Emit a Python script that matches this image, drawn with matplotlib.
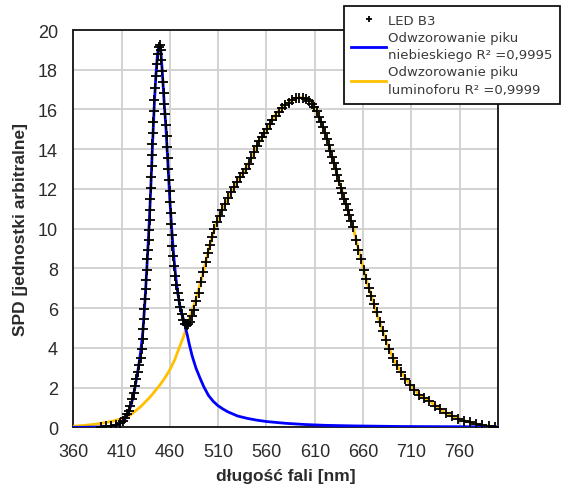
import matplotlib
matplotlib.use("Agg")
import matplotlib.pyplot as plt

# ---------------- data ----------------
led_nm = [389, 394, 399, 404, 408, 411, 414, 416, 417.6, 419.2, 420.8, 422.4, 423.9, 425.4,
          426.8, 428.2, 429.6, 430.8, 431.7, 432.3, 432.9, 433.5, 434.1, 434.8, 435.4, 436.1,
          436.8, 437.4, 437.9, 438.4, 438.9, 439.4, 439.9, 440.3, 440.7, 441.1, 441.5, 441.9,
          442.3, 442.7, 443.2, 443.8, 444.5, 445.3, 446.2, 447.2, 448.3, 449.4, 450.5, 451.3,
          452.0, 452.8, 453.6, 454.4, 455.2, 455.9, 456.6, 457.2, 457.8, 458.4, 459.0, 459.6,
          460.2, 460.8, 461.4, 461.9, 462.5, 463.4, 464.5, 465.6, 466.8, 468.0, 469.3, 470.6,
          472.1, 473.8, 475.6, 477.3, 479.0, 480.7, 482.8, 485.0, 487.5, 490.0, 492.3, 494.6,
          496.9, 499.2, 501.3, 503.5, 506.0, 508.7, 511.5, 514.4, 517.4, 520.4, 523.4, 526.4,
          529.4, 532.4, 535.4, 538.4, 541.4, 544.2, 547.0, 549.7, 552.3, 555.0, 557.6, 560.3,
          563.2, 566.2, 569.4, 572.6, 576.0, 579.5, 583.0, 586.6, 590.2, 593.8, 597.4, 600.8,
          604.0, 607.0, 609.6, 612.0, 614.3, 616.5, 618.6, 620.6, 622.5, 624.3, 626.1, 627.9,
          629.7, 631.5, 633.3, 635.1, 636.9, 638.7, 640.5, 642.3, 644.1, 645.9, 647.7, 649.7,
          652.5, 655.2, 658.0, 660.7, 663.3, 665.8, 668.5, 671.3, 674.2, 677.2, 680.3, 683.6,
          687.2, 691.0, 695.0, 699.2, 703.6, 708.2, 713.0, 718.0, 723.2, 728.6, 734.2, 740.0,
          746.0, 752.0, 758.2, 764.5, 770.8, 777.2, 783.6, 790.0, 796.3]
led_val = [0.03, 0.05, 0.08, 0.13, 0.2, 0.3, 0.48, 0.65, 0.8, 1.05, 1.4, 1.75, 2.1, 2.45,
           2.8, 3.15, 3.5, 3.95, 4.45, 4.95, 5.45, 5.95, 6.45, 6.95, 7.4, 7.9,
           8.45, 8.95, 9.45, 9.95, 10.45, 10.95, 11.5, 12.05, 12.6, 13.15, 13.7, 14.25,
           14.8, 15.35, 15.9, 16.5, 17.1, 17.7, 18.3, 18.8, 19.15, 19.25, 19.0, 18.5,
           17.95, 17.4, 16.85, 16.3, 15.75, 15.2, 14.65, 14.1, 13.55, 13.0, 12.45, 11.9,
           11.35, 10.8, 10.25, 9.7, 9.15, 8.6, 8.1, 7.6, 7.15, 6.75, 6.4, 6.05,
           5.7, 5.42, 5.22, 5.15, 5.2, 5.32, 5.6, 5.9, 6.35, 6.75, 7.3, 7.8,
           8.3, 8.75, 9.2, 9.6, 10.0, 10.35, 10.65, 10.95, 11.25, 11.55, 11.85, 12.1,
           12.35, 12.58, 12.8, 13.0, 13.25, 13.55, 13.85, 14.15, 14.4, 14.62, 14.82, 15.02,
           15.25, 15.47, 15.68, 15.87, 16.05, 16.2, 16.35, 16.47, 16.56, 16.6, 16.6, 16.53,
           16.42, 16.3, 16.12, 15.9, 15.62, 15.38, 15.1, 14.82, 14.52, 14.22, 13.93, 13.63,
           13.3, 12.98, 12.7, 12.4, 12.05, 11.8, 11.5, 11.25, 10.95, 10.7, 10.4, 10.07,
           9.45, 8.95, 8.45, 7.9, 7.45, 7.0, 6.6, 6.2, 5.8, 5.3, 4.85, 4.4,
           3.95, 3.5, 3.12, 2.78, 2.45, 2.15, 1.88, 1.65, 1.47, 1.3, 1.08, 0.9,
           0.7, 0.55, 0.44, 0.34, 0.25, 0.17, 0.11, 0.07, 0.04]

blue_nm = [360, 370, 380, 390, 400, 405, 410, 414, 417, 420, 422, 424, 426, 428, 430, 432,
           434, 436, 438, 440, 442, 444, 445.5, 447, 448.5, 449.5, 450.5, 452, 454, 456, 458,
           460, 462, 464, 466, 468, 470, 472, 474, 476, 478, 480, 483, 487, 491, 495, 500,
           505, 510, 515, 520, 530, 540, 550, 560, 580, 600, 620, 650, 700, 750, 800]
blue_val = [0.0, 0.0, 0.01, 0.02, 0.06, 0.12, 0.25, 0.45, 0.72, 1.15, 1.55, 2.05, 2.6, 3.2,
            3.9, 4.8, 6.2, 7.9, 9.7, 11.8, 14.2, 16.4, 17.7, 18.7, 19.2, 19.25, 19.0, 18.0,
            16.4, 15.0, 13.2, 11.4, 9.9, 8.6, 7.6, 6.8, 6.2, 5.75, 5.45, 5.05, 4.65, 4.2,
            3.6, 2.98, 2.5, 2.05, 1.6, 1.3, 1.08, 0.92, 0.78, 0.57, 0.45, 0.36, 0.29, 0.2,
            0.14, 0.1, 0.07, 0.04, 0.03, 0.02]

yellow_nm = [360, 370, 380, 390, 400, 410, 420, 430, 440, 450, 455, 460, 465, 470, 474, 477,
             480, 483, 486, 489, 492, 495, 498, 501, 504, 507, 510, 513, 516, 520, 525, 530,
             535, 540, 545, 550, 555, 560, 565, 570, 575, 580, 585, 590, 595, 600, 605, 610,
             615, 620, 625, 630, 635, 640, 645, 650, 655, 660, 665, 670, 675, 680, 685, 690,
             695, 700, 705, 710, 715, 720, 725, 730, 735, 740, 745, 750, 755, 760, 765, 770,
             775, 780, 785, 790, 795, 800]
yellow_val = [0.05, 0.09, 0.14, 0.21, 0.3, 0.43, 0.65, 1.05, 1.55, 2.15, 2.5, 2.9, 3.4, 4.05,
              4.55, 4.98, 5.45, 5.9, 6.3, 6.8, 7.35, 7.9, 8.5, 9.1, 9.65, 10.1, 10.5, 10.85,
              11.15, 11.5, 12.0, 12.4, 12.8, 13.15, 13.6, 14.15, 14.6, 15.0, 15.4, 15.78,
              16.05, 16.25, 16.42, 16.55, 16.6, 16.55, 16.38, 16.08, 15.55, 14.9, 14.1, 13.25,
              12.42, 11.6, 10.8, 10.0, 9.0, 8.05, 7.15, 6.4, 5.6, 4.9, 4.2, 3.6,
              3.1, 2.75, 2.4, 2.05, 1.8, 1.58, 1.42, 1.28, 1.1, 0.92, 0.72, 0.6,
              0.5, 0.42, 0.33, 0.26, 0.19, 0.14, 0.09, 0.06, 0.04, 0.03]

x_ticks = [360, 410, 460, 510, 560, 610, 660, 710, 760]
y_ticks = [0, 2, 4, 6, 8, 10, 12, 14, 16, 18, 20]

label_led = "LED B3"
label_blue = "Odwzorowanie piku\nniebieskiego R² =0,9995"
label_yellow = "Odwzorowanie piku\nluminoforu R² =0,9999"
x_label = "długość fali [nm]"
y_label = "SPD [jednostki arbitralne]"

# ---------------- figure ----------------
plt.rcParams['font.family'] = ['Liberation Sans', 'DejaVu Sans']
W, H = 561, 485
fig = plt.figure(figsize=(W / 100, H / 100), dpi=100)
ax = fig.add_axes([73.3 / W, 1 - 428.3 / H, (498.3 - 73.3) / W, (428.3 - 31) / H])

ax.plot(yellow_nm, yellow_val, color='#FFC000', lw=2.0, zorder=3, label=label_yellow)
ax.plot(blue_nm, blue_val, color='#0000FF', lw=2.0, zorder=4, label=label_blue)
ax.plot(led_nm, led_val, ls='none', marker='+', color='black', ms=6.5, mew=1.3,
        zorder=5, label=label_led)

ax.set_xlim(360, 800)
ax.set_ylim(0, 20)
ax.set_xticks(x_ticks)
ax.set_yticks(y_ticks)
ax.grid(True, color='#cfcfcf', lw=1.3, zorder=0)
ax.set_axisbelow(True)
ax.tick_params(length=0, pad=11, labelsize=13, labelcolor='#2b2b2b')
for s in ax.spines.values():
    s.set_color('#222222')
    s.set_linewidth(1.4)

ax.set_xlabel(x_label, fontsize=12.5, fontweight='bold', color='#2b2b2b', labelpad=6)
ax.set_ylabel(y_label, fontsize=12.5, fontweight='bold', color='#2b2b2b', labelpad=7)

handles, labels = ax.get_legend_handles_labels()
order = [2, 1, 0]
leg = ax.legend([handles[i] for i in order], [labels[i] for i in order],
                loc='upper right', bbox_to_anchor=(560 / W, 1 - 7 / H),
                bbox_transform=fig.transFigure, prop={'family': 'DejaVu Sans', 'size': 9.5},
                frameon=True, fancybox=False, framealpha=1, edgecolor='#111111',
                borderpad=0.6, labelspacing=0.3, handlelength=2.6, handletextpad=0.15,
                borderaxespad=0, markerscale=0.7)
leg.get_frame().set_linewidth(1.3)
for t in leg.get_texts():
    t.set_color('#3a3a3a')
    t.set_linespacing(1.45)
leg.set_zorder(10)

fig.savefig("out.png", dpi=100)
